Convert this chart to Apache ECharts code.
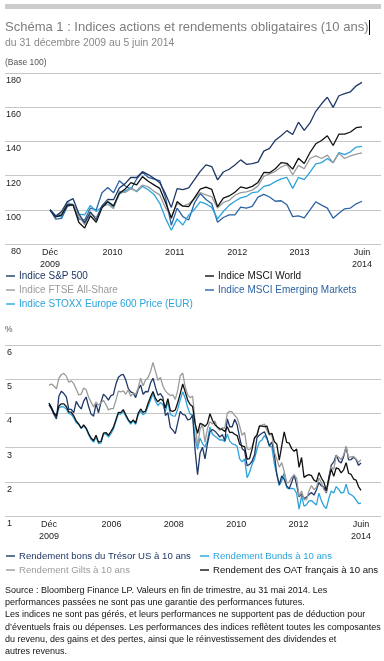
<!DOCTYPE html>
<html>
<head>
<meta charset="utf-8">
<script src="https://cdn.jsdelivr.net/npm/echarts@6/dist/echarts.min.js"></script>
<style>
html,body{margin:0;padding:0;background:#fff;}
#c{width:384px;height:661px;}
</style>
</head>
<body>
<div id="c"></div>
<script>
// ---------- Top chart: equity indices, base 100, monthly Dec 2009 -> 5 Jun 2014 ----------
const topTickLabels = ['Déc\n2009', '2010', '2011', '2012', '2013', 'Juin\n2014'];
const topTickPos = [0, 10.8, 21.6, 32.4, 43.2, 54];
const sp500 = [100, 96.3, 99.0, 104.8, 106.5, 97.7, 92.4, 98.8, 94.1, 102.3, 106.1, 105.9, 112.8,
  115.3, 119.0, 118.9, 122.3, 120.6, 118.4, 115.8, 109.3, 101.4, 112.4, 111.8, 112.8,
  117.7, 122.5, 126.3, 125.3, 117.5, 122.1, 123.7, 126.2, 129.2, 126.6, 127.0, 127.9,
  134.3, 135.9, 140.7, 143.3, 146.3, 144.0, 151.2, 146.4, 150.8, 157.6, 162.0, 165.8,
  159.9, 166.7, 167.9, 169.0, 172.5, 174.5];
const msciWorld = [100, 95.8, 96.9, 102.9, 102.8, 92.6, 89.3, 96.5, 92.7, 101.2, 104.8, 102.3, 109.7,
  112.1, 115.9, 114.6, 119.4, 116.7, 114.6, 112.5, 104.3, 95.1, 104.8, 102.1, 101.9,
  107.0, 112.1, 113.3, 111.9, 101.8, 106.8, 108.1, 110.3, 113.4, 112.5, 113.7, 116.0,
  121.8, 121.7, 124.0, 127.6, 127.2, 123.8, 130.1, 127.1, 133.5, 138.6, 140.5, 143.3,
  137.6, 144.2, 144.3, 145.5, 148.0, 148.5];
const ftseAllShare = [100, 96.0, 97.8, 103.5, 103.2, 96.3, 91.3, 97.8, 95.6, 101.8, 103.2, 100.7, 110.9,
  110.1, 112.3, 111.1, 114.5, 113.4, 110.8, 108.7, 101.1, 96.0, 103.6, 102.1, 103.5,
  106.5, 110.1, 108.7, 107.6, 101.0, 104.3, 105.5, 108.5, 110.0, 110.5, 111.5, 114.0,
  119.5, 121.0, 122.5, 125.0, 126.5, 120.5, 126.0, 124.0, 130.0, 131.5, 130.0, 132.0,
  127.5, 133.0, 130.0, 131.5, 132.6, 133.3];
const msciEM = [100, 94.5, 95.0, 102.0, 103.0, 94.5, 94.0, 101.0, 100.0, 110.0, 113.0, 110.0, 117.0,
  114.0, 112.0, 118.0, 122.0, 119.0, 118.0, 117.0, 107.0, 91.0, 101.0, 96.0, 94.0,
  104.0, 109.5, 106.0, 103.5, 92.7, 95.5, 97.0, 97.0, 101.6, 101.0, 102.0, 107.4,
  109.0, 107.5, 105.0, 105.3, 103.0, 96.0, 96.5, 95.3, 100.0, 104.7, 102.7, 101.0,
  95.1, 98.0, 100.6, 101.0, 103.5, 105.0];
const stoxx600 = [100, 96.5, 95.9, 104.2, 103.0, 97.5, 97.1, 102.6, 99.0, 101.8, 104.6, 101.4, 109.3,
  110.9, 112.9, 110.5, 113.7, 111.7, 109.0, 103.8, 95.0, 88.0, 94.7, 91.1, 96.9,
  100.2, 104.6, 103.4, 101.4, 94.7, 99.0, 102.6, 105.0, 107.0, 107.8, 110.1, 110.5,
  113.7, 114.5, 116.5, 118.1, 118.9, 112.5, 118.9, 117.7, 122.0, 126.8, 127.6, 130.0,
  127.6, 133.5, 132.3, 133.9, 136.7, 137.1];

// ---------- Bottom chart: 10-year yields (%), monthly Dec 2003 -> Jun 2014 ----------
const botTickLabels = ['Déc\n2009', '2006', '2008', '2010', '2012', 'Juin\n2014'];
const botTickPos = [0, 25.2, 50.4, 75.6, 100.8, 126];
const usTreasury = [4.25,
  4.13, 3.97, 3.84, 4.51, 4.65, 4.58, 4.48, 4.12, 4.12, 4.02, 4.35, 4.22,
  4.13, 4.36, 4.48, 4.20, 3.98, 3.92, 4.28, 4.02, 4.33, 4.56, 4.49, 4.39,
  4.52, 4.55, 4.85, 5.05, 5.12, 5.14, 4.98, 4.73, 4.63, 4.60, 4.46, 4.70,
  4.83, 4.56, 4.64, 4.63, 4.89, 5.03, 4.76, 4.53, 4.58, 4.47, 3.94, 4.02,
  3.59, 3.51, 3.41, 3.73, 4.06, 3.97, 3.95, 3.81, 3.83, 3.95, 2.92, 2.21,
  2.84, 3.01, 2.67, 3.12, 3.46, 3.53, 3.48, 3.40, 3.31, 3.38, 3.20, 3.84,
  3.61, 3.61, 3.83, 3.66, 3.29, 2.97, 2.91, 2.47, 2.51, 2.60, 2.79, 3.29,
  3.37, 3.42, 3.46, 3.29, 3.05, 3.16, 2.80, 2.22, 1.92, 2.17, 2.07, 1.88,
  1.80, 1.98, 2.21, 1.91, 1.56, 1.64, 1.51, 1.55, 1.63, 1.69, 1.61, 1.76,
  1.98, 1.88, 1.85, 1.67, 2.13, 2.49, 2.58, 2.78, 2.61, 2.55, 2.74, 3.03,
  2.64, 2.65, 2.72, 2.65, 2.48, 2.55];
const bunds = [4.30,
  4.15, 3.98, 3.89, 4.16, 4.20, 4.19, 4.13, 3.99, 3.97, 3.87, 3.73, 3.68,
  3.56, 3.63, 3.55, 3.37, 3.24, 3.16, 3.31, 3.12, 3.13, 3.39, 3.40, 3.31,
  3.41, 3.54, 3.76, 3.98, 3.98, 4.06, 3.92, 3.79, 3.69, 3.78, 3.68, 3.95,
  4.07, 3.96, 4.01, 4.21, 4.39, 4.57, 4.36, 4.23, 4.32, 4.26, 4.05, 4.34,
  3.97, 3.93, 3.92, 4.13, 4.40, 4.63, 4.45, 4.17, 3.98, 3.95, 3.28, 2.95,
  3.28, 3.11, 3.02, 3.21, 3.60, 3.39, 3.33, 3.28, 3.22, 3.23, 3.17, 3.39,
  3.19, 3.11, 3.09, 3.03, 2.67, 2.58, 2.67, 2.12, 2.28, 2.51, 2.67, 2.96,
  3.17, 3.22, 3.35, 3.26, 3.04, 3.02, 2.53, 2.22, 1.89, 2.03, 2.27, 1.83,
  1.79, 1.81, 1.79, 1.66, 1.20, 1.58, 1.29, 1.33, 1.44, 1.45, 1.39, 1.32,
  1.67, 1.45, 1.29, 1.22, 1.51, 1.73, 1.67, 1.86, 1.78, 1.67, 1.69, 1.93,
  1.66, 1.62, 1.57, 1.47, 1.36, 1.38];
const gilts = [4.82,
  4.86, 4.80, 4.72, 5.03, 5.13, 5.17, 5.09, 4.91, 4.95, 4.87, 4.71, 4.54,
  4.56, 4.74, 4.69, 4.47, 4.33, 4.19, 4.33, 4.24, 4.31, 4.38, 4.26, 4.10,
  4.14, 4.14, 4.38, 4.65, 4.63, 4.66, 4.56, 4.69, 4.50, 4.60, 4.55, 4.74,
  5.03, 4.81, 4.98, 5.05, 5.22, 5.49, 5.23, 4.97, 5.05, 4.80, 4.66, 4.58,
  4.52, 4.54, 4.41, 4.68, 5.10, 5.18, 4.78, 4.54, 4.46, 4.51, 3.77, 3.03,
  3.54, 3.67, 3.16, 3.56, 3.76, 3.69, 3.78, 3.58, 3.51, 3.58, 3.57, 4.01,
  4.06, 4.04, 3.94, 3.86, 3.63, 3.36, 3.44, 2.96, 2.94, 3.03, 3.25, 3.40,
  3.64, 3.66, 3.69, 3.50, 3.37, 3.37, 2.88, 2.66, 2.43, 2.56, 2.30, 1.98,
  1.98, 2.13, 2.20, 2.11, 1.57, 1.73, 1.47, 1.48, 1.73, 1.89, 1.77, 1.83,
  2.11, 1.98, 1.77, 1.69, 2.01, 2.44, 2.36, 2.77, 2.72, 2.65, 2.79, 3.02,
  2.71, 2.73, 2.74, 2.67, 2.57, 2.65];
const oatFr = [4.30,
  4.17, 4.01, 3.93, 4.22, 4.28, 4.28, 4.20, 4.04, 4.04, 3.93, 3.78, 3.69,
  3.57, 3.66, 3.57, 3.41, 3.28, 3.20, 3.36, 3.16, 3.18, 3.42, 3.44, 3.36,
  3.47, 3.59, 3.81, 4.03, 4.02, 4.11, 3.96, 3.82, 3.73, 3.81, 3.72, 4.00,
  4.13, 4.03, 4.07, 4.29, 4.48, 4.64, 4.44, 4.34, 4.42, 4.38, 4.16, 4.43,
  4.08, 4.06, 4.10, 4.32, 4.58, 4.86, 4.63, 4.39, 4.26, 4.20, 3.70, 3.42,
  3.71, 3.68, 3.62, 3.71, 3.99, 3.80, 3.67, 3.60, 3.55, 3.53, 3.47, 3.61,
  3.44, 3.45, 3.39, 3.35, 3.10, 3.05, 3.03, 2.66, 2.68, 2.95, 3.29, 3.36,
  3.63, 3.63, 3.61, 3.63, 3.39, 3.42, 3.18, 3.10, 2.63, 3.06, 3.46, 3.15,
  3.13, 2.97, 2.89, 2.96, 2.42, 2.71, 2.13, 2.18, 2.21, 2.18, 2.05, 2.00,
  2.27, 2.11, 1.99, 1.74, 2.08, 2.37, 2.16, 2.41, 2.38, 2.26, 2.35, 2.56,
  2.25, 2.22, 2.08, 2.05, 1.86, 1.75];

const topNames = ['Indice S&P 500', 'Indice MSCI World', 'Indice FTSE All-Share', 'Indice MSCI Emerging Markets', 'Indice STOXX Europe 600 Price (EUR)'];
const botNames = ['Rendement bons du Trésor US à 10 ans', 'Rendement Bunds à 10 ans', 'Rendement Gilts à 10 ans', 'Rendement des OAT français à 10 ans'];

const C_NAVY = '#1f3866', C_BLACK = '#111111', C_GRAY = '#9b9b9b', C_MID = '#2c63a3', C_LIGHT = '#2ba3dc';
const FONT = 'Liberation Sans';

function pts(arr) { return arr.map((v, i) => [i, v]); }
function lineSeries(name, arr, color, grid) {
  return { name, type: 'line', xAxisIndex: grid, yAxisIndex: grid, data: pts(arr), showSymbol: false, symbol: 'none',
    lineStyle: { color, width: 1.3 }, itemStyle: { color }, emphasis: { disabled: true }, silent: true };
}
function tickFormatter(pos, labels) {
  return function (v) { for (let i = 0; i < pos.length; i++) if (Math.abs(v - pos[i]) < 0.01) return labels[i]; return ''; };
}
function legendItem(name, color, left, top, size) {
  return { left, top, padding: 0, itemGap: 0, icon: 'rect', itemWidth: 9, itemHeight: 1.4, selectedMode: false,
    data: [{ name, textStyle: { color } }], textStyle: { fontFamily: FONT, fontSize: size, color, padding: [0, 0, 0, -1] } };
}

const chart = echarts.init(document.getElementById('c'), null, { renderer: 'canvas' });
const xLabel = { fontFamily: FONT, fontSize: 9, color: '#222', margin: 3, lineHeight: 11.5, verticalAlign: 'top' };
chart.setOption({
  animation: false,
  backgroundColor: '#ffffff',
  grid: [
    { left: 5, right: 3, top: 73, height: 171 },
    { left: 5, right: 3, top: 345, height: 171 }
  ],
  xAxis: [
    { type: 'value', gridIndex: 0, min: -7.788, max: 57.288, splitLine: { show: false }, axisLine: { show: false }, axisTick: { show: false },
      axisLabel: Object.assign({ customValues: topTickPos, formatter: tickFormatter(topTickPos, topTickLabels) }, xLabel) },
    { type: 'value', gridIndex: 1, min: -17.77, max: 134.08, splitLine: { show: false }, axisLine: { show: false }, axisTick: { show: false },
      axisLabel: Object.assign({ customValues: botTickPos, formatter: tickFormatter(botTickPos, botTickLabels) }, xLabel) }
  ],
  yAxis: [
    { type: 'value', gridIndex: 0, min: 80, max: 180, interval: 20, axisLine: { show: false }, axisTick: { show: false },
      splitLine: { lineStyle: { color: '#c6c6c6', width: 1 } },
      axisLabel: { inside: true, align: 'right', verticalAlign: 'top', margin: 16, padding: [3, 0, 0, 0], fontFamily: FONT, fontSize: 9, color: '#222' } },
    { type: 'value', gridIndex: 1, min: 1, max: 6, interval: 1, axisLine: { show: false }, axisTick: { show: false },
      splitLine: { lineStyle: { color: '#c6c6c6', width: 1 } },
      axisLabel: { inside: true, align: 'right', verticalAlign: 'top', margin: 7, padding: [3, 0, 0, 0], fontFamily: FONT, fontSize: 9, color: '#222' } }
  ],
  legend: [
    legendItem(topNames[0], C_NAVY, 6, 271, 10),
    legendItem(topNames[1], C_BLACK, 205, 271, 10),
    legendItem(topNames[2], C_GRAY, 6, 285, 10),
    legendItem(topNames[3], C_MID, 205, 285, 10),
    legendItem(topNames[4], C_LIGHT, 6, 299, 10),
    legendItem(botNames[0], C_NAVY, 6, 551, 9.6),
    legendItem(botNames[1], C_LIGHT, 200, 551, 9.6),
    legendItem(botNames[2], C_GRAY, 6, 565, 9.6),
    legendItem(botNames[3], C_BLACK, 200, 565, 9.6)
  ],
  series: [
    lineSeries(topNames[3], msciEM, C_MID, 0),
    lineSeries(topNames[4], stoxx600, C_LIGHT, 0),
    lineSeries(topNames[2], ftseAllShare, C_GRAY, 0),
    lineSeries(topNames[1], msciWorld, C_BLACK, 0),
    lineSeries(topNames[0], sp500, C_NAVY, 0),
    lineSeries(botNames[1], bunds, C_LIGHT, 1),
    lineSeries(botNames[0], usTreasury, C_NAVY, 1),
    lineSeries(botNames[2], gilts, C_GRAY, 1),
    lineSeries(botNames[3], oatFr, C_BLACK, 1)
  ],
  graphic: [
    { type: 'rect', shape: { x: 5, y: 4, width: 376, height: 5 }, style: { fill: '#cccccc' }, silent: true },
    { type: 'text', x: 5, y: 27, style: { text: 'Schéma 1 : Indices actions et rendements obligataires (10 ans)', font: '13px "Liberation Sans"', fill: '#7d7d7d', verticalAlign: 'middle' }, silent: true },
    { type: 'rect', shape: { x: 369, y: 20, width: 1, height: 15 }, style: { fill: '#000' }, silent: true },
    { type: 'text', x: 5, y: 43.5, style: { text: 'du 31 décembre 2009 au 5 juin 2014', font: '10.4px "Liberation Sans"', fill: '#888888', verticalAlign: 'middle' }, silent: true },
    { type: 'text', x: 5, y: 62.5, style: { text: '(Base 100)', font: '8.5px "Liberation Sans"', fill: '#555555', verticalAlign: 'middle' }, silent: true },
    { type: 'text', x: 5, y: 330, style: { text: '%', font: '8.5px "Liberation Sans"', fill: '#555555', verticalAlign: 'middle' }, silent: true },
    { type: 'text', x: 5, y: 584, style: {
        text: 'Source : Bloomberg Finance LP. Valeurs en fin de trimestre, au 31 mai 2014. Les\n' +
              'performances passées ne sont pas une garantie des performances futures.\n' +
              'Les indices ne sont pas gérés, et leurs performances ne supportent pas de déduction pour\n' +
              'd’éventuels frais ou dépenses. Les performances des indices reflètent toutes les composantes\n' +
              'du revenu, des gains et des pertes, ainsi que le réinvestissement des dividendes et\n' +
              'autres revenus.',
        font: '9px "Liberation Sans"', lineHeight: 12.3, fill: '#111111', verticalAlign: 'top' }, silent: true }
  ]
});
</script>
</body>
</html>
